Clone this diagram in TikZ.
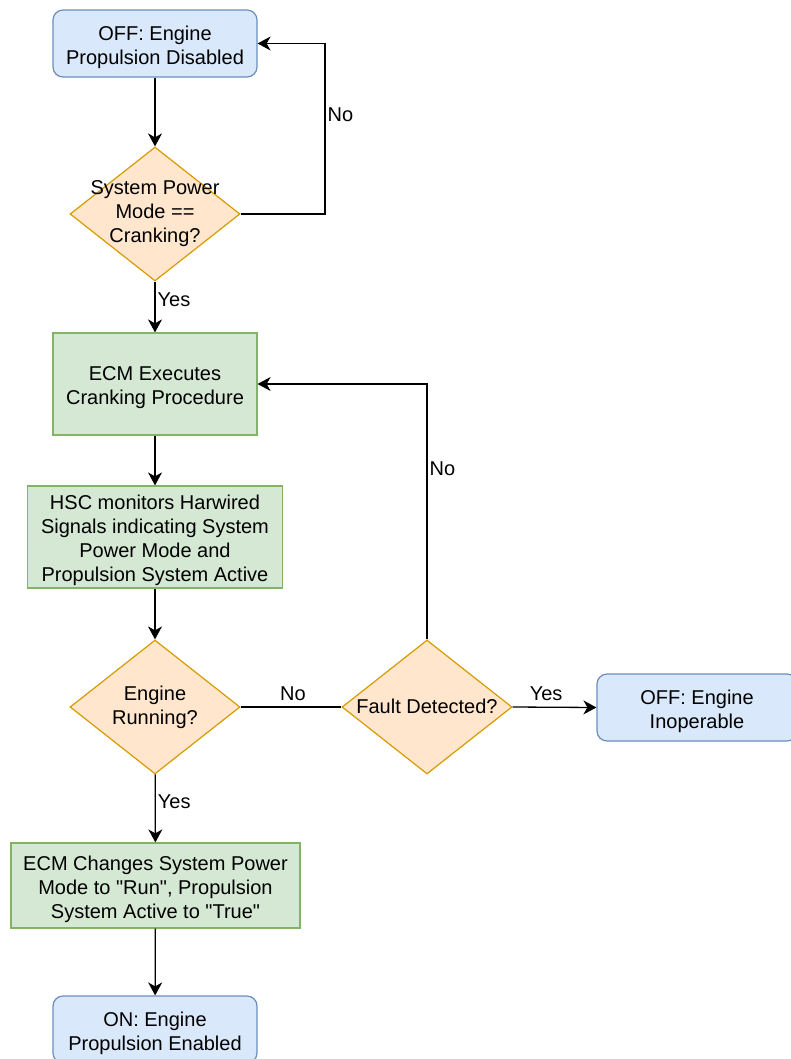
\documentclass[tikz,border=0pt]{standalone}
\usepackage{fontspec}
\setmainfont{Liberation Sans}
\usetikzlibrary{shapes.geometric,arrows.meta}

\definecolor{stateFill}{HTML}{DAE8FC}
\definecolor{stateLine}{HTML}{6C8EBF}
\definecolor{procFill}{HTML}{D5E8D4}
\definecolor{procLine}{HTML}{82B366}
\definecolor{askFill}{HTML}{FFE6CC}
\definecolor{askLine}{HTML}{D79B00}

\tikzset{
  boxtext/.style={label={[align=center,yshift=-3.5pt]center:#1}},
  state/.style={draw=stateLine,fill=stateFill,rounded corners=10pt,line width=1.2pt,
    minimum width=204pt,minimum height=67pt},
  process/.style={draw=procLine,fill=procFill,line width=1.2pt,
    minimum height=102pt},
  decision/.style={diamond,draw=askLine,fill=askFill,line width=1.2pt,inner sep=0pt,
    minimum width=170pt,minimum height=134pt},
  flow/.style={line width=1.3pt,-{Stealth[length=13pt,width=14pt,inset=4pt]}},
  lbl/.style={inner sep=2pt}
}

\begin{document}
\begin{tikzpicture}[x=1pt,y=-1pt,font=\fontsize{20}{24}\selectfont]
\useasboundingbox (0,0) rectangle (791,1059);

\node[state,boxtext={OFF: Engine\\Propulsion Disabled}] (off) at (155,43.5) {};
\node[decision,label={[align=center]center:System Power\\Mode ==\\Cranking?}] (power) at (155,214) {};
\node[process,minimum width=204pt,boxtext={ECM Executes\\Cranking Procedure}] (crank) at (155,384) {};
\node[process,minimum width=255pt,
  boxtext={HSC monitors Harwired\\Signals indicating System\\Power Mode and\\Propulsion System Active}] (hsc) at (155,537) {};
\node[decision,label={[align=center]center:Engine\\Running?}] (running) at (155,707) {};
\node[decision,label={[align=center,yshift=1pt]center:Fault Detected?}] (fault) at (427,707) {};
\node[state,minimum width=200pt,boxtext={OFF: Engine\\Inoperable}] (inop) at (697,707.5) {};
\node[process,minimum width=289pt,minimum height=85pt,
  boxtext={ECM Changes System Power\\Mode to \textquotedbl Run\textquotedbl, Propulsion\\System Active to \textquotedbl True\textquotedbl}] (run) at (155.5,885.5) {};
\node[state,boxtext={ON: Engine\\Propulsion Enabled}] (on) at (155,1029.5) {};

\coordinate (noloop) at (325,43.5);

% main line
\draw[flow] (off) -- (power);
\draw[flow] (power) -- node[lbl,right,pos=0.35] {Yes} (crank);
\draw[flow] (crank) -- (hsc);
\draw[flow] (hsc) -- (running);
\draw[flow] (running) -- node[lbl,right,pos=0.4] {Yes} (run);
\draw[flow] (run) -- (on);

% side branches
\draw[flow] (power.east) -| node[lbl,right,pos=0.79] {No} (noloop) -- (off.east);
\draw[line width=1.3pt] (running.east) -- node[lbl,above,yshift=4pt,pos=0.52] {No} (fault.west);
\draw[flow] (fault.east) -- node[lbl,above,yshift=4pt,pos=0.4] {Yes} (inop.west);
\draw[flow] (fault.north) |- node[lbl,right,pos=0.335] {No} (crank.east);
\end{tikzpicture}
\end{document}
